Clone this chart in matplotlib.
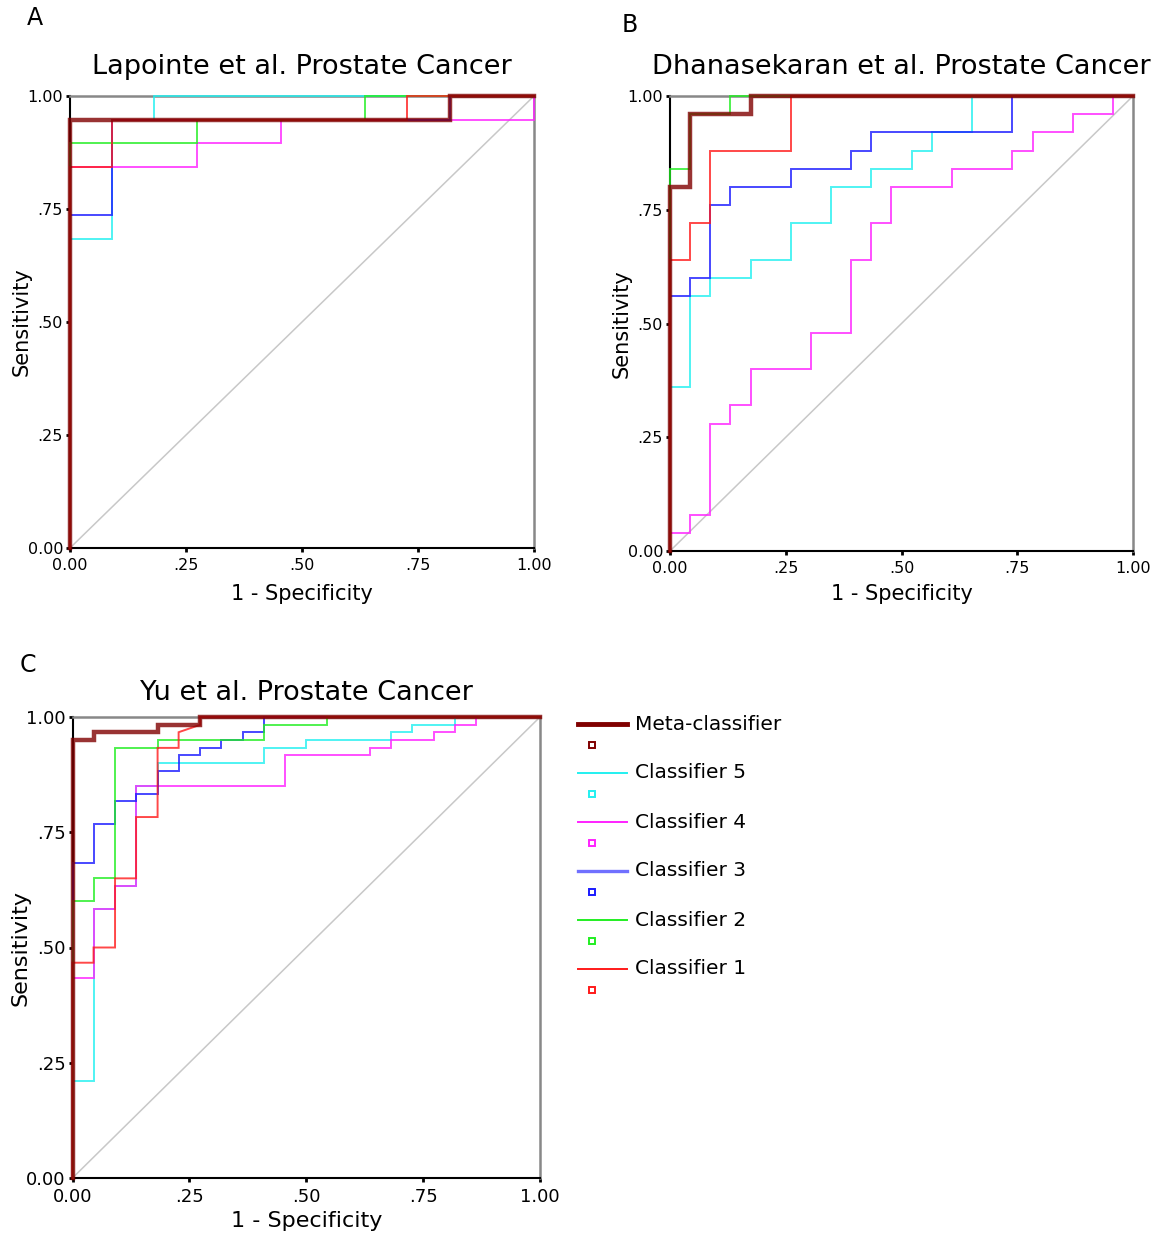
import matplotlib
matplotlib.use("Agg")
import matplotlib.pyplot as plt
from matplotlib.lines import Line2D

# ---- data (1 - specificity, sensitivity) ----
names = ["Meta-classifier", "Classifier 5", "Classifier 4",
         "Classifier 3", "Classifier 2", "Classifier 1"]
colors = ["#800000", "#22f0f0", "#ff22ff", "#1a1aff", "#22ee22", "#ff1a1a"]

# Lapointe et al.
a_meta_x = [0, 0, 0.818, 0.818, 1]
a_meta_y = [0, 0.947, 0.947, 1, 1]
a_c5_x = [0, 0, 0.091, 0.091, 0.182, 0.182, 1]
a_c5_y = [0, 0.684, 0.684, 0.947, 0.947, 1, 1]
a_c4_x = [0, 0, 0.273, 0.273, 0.455, 0.455, 1, 1]
a_c4_y = [0, 0.842, 0.842, 0.895, 0.895, 0.947, 0.947, 1]
a_c3_x = [0, 0, 0.091, 0.091, 0.818, 0.818, 1]
a_c3_y = [0, 0.737, 0.737, 0.947, 0.947, 1, 1]
a_c2_x = [0, 0, 0.273, 0.273, 0.636, 0.636, 1]
a_c2_y = [0, 0.895, 0.895, 0.947, 0.947, 1, 1]
a_c1_x = [0, 0, 0.091, 0.091, 0.727, 0.727, 1]
a_c1_y = [0, 0.842, 0.842, 0.947, 0.947, 1, 1]

# Dhanasekaran et al.
b_meta_x = [0, 0, 0.043, 0.043, 0.174, 0.174, 1]
b_meta_y = [0, 0.80, 0.80, 0.96, 0.96, 1, 1]
b_c5_x = [0, 0, 0.043, 0.043, 0.087, 0.087, 0.174, 0.174, 0.261, 0.261, 0.348,
          0.348, 0.435, 0.435, 0.522, 0.522, 0.565, 0.565, 0.652, 0.652, 1]
b_c5_y = [0, 0.36, 0.36, 0.56, 0.56, 0.60, 0.60, 0.64, 0.64, 0.72, 0.72,
          0.80, 0.80, 0.84, 0.84, 0.88, 0.88, 0.92, 0.92, 1, 1]
b_c4_x = [0, 0, 0.043, 0.043, 0.087, 0.087, 0.130, 0.130, 0.174, 0.174, 0.304,
          0.304, 0.391, 0.391, 0.435, 0.435, 0.478, 0.478, 0.609, 0.609, 0.739,
          0.739, 0.783, 0.783, 0.870, 0.870, 0.957, 0.957, 1]
b_c4_y = [0, 0.04, 0.04, 0.08, 0.08, 0.28, 0.28, 0.32, 0.32, 0.40, 0.40,
          0.48, 0.48, 0.64, 0.64, 0.72, 0.72, 0.80, 0.80, 0.84, 0.84,
          0.88, 0.88, 0.92, 0.92, 0.96, 0.96, 1, 1]
b_c3_x = [0, 0, 0.043, 0.043, 0.087, 0.087, 0.130, 0.130, 0.261, 0.261, 0.391,
          0.391, 0.435, 0.435, 0.739, 0.739, 1]
b_c3_y = [0, 0.56, 0.56, 0.60, 0.60, 0.76, 0.76, 0.80, 0.80, 0.84, 0.84,
          0.88, 0.88, 0.92, 0.92, 1, 1]
b_c2_x = [0, 0, 0.043, 0.043, 0.130, 0.130, 1]
b_c2_y = [0, 0.84, 0.84, 0.96, 0.96, 1, 1]
b_c1_x = [0, 0, 0.043, 0.043, 0.087, 0.087, 0.261, 0.261, 1]
b_c1_y = [0, 0.64, 0.64, 0.72, 0.72, 0.88, 0.88, 1, 1]

# Yu et al.
c_meta_x = [0, 0, 0.045, 0.045, 0.182, 0.182, 0.273, 0.273, 1]
c_meta_y = [0, 0.95, 0.95, 0.967, 0.967, 0.983, 0.983, 1, 1]
c_c5_x = [0, 0, 0.045, 0.045, 0.091, 0.091, 0.136, 0.136, 0.182, 0.182, 0.409,
          0.409, 0.5, 0.5, 0.682, 0.682, 0.727, 0.727, 0.818, 0.818, 1]
c_c5_y = [0, 0.21, 0.21, 0.583, 0.583, 0.633, 0.633, 0.85, 0.85, 0.9, 0.9,
          0.933, 0.933, 0.95, 0.95, 0.967, 0.967, 0.983, 0.983, 1, 1]
c_c4_x = [0, 0, 0.045, 0.045, 0.091, 0.091, 0.136, 0.136, 0.455, 0.455, 0.636,
          0.636, 0.682, 0.682, 0.773, 0.773, 0.818, 0.818, 0.864, 0.864, 1]
c_c4_y = [0, 0.433, 0.433, 0.583, 0.583, 0.633, 0.633, 0.85, 0.85, 0.917, 0.917,
          0.933, 0.933, 0.95, 0.95, 0.967, 0.967, 0.983, 0.983, 1, 1]
c_c3_x = [0, 0, 0.045, 0.045, 0.091, 0.091, 0.136, 0.136, 0.182, 0.182, 0.227,
          0.227, 0.273, 0.273, 0.318, 0.318, 0.364, 0.364, 0.409, 0.409, 1]
c_c3_y = [0, 0.683, 0.683, 0.767, 0.767, 0.817, 0.817, 0.833, 0.833, 0.883, 0.883,
          0.917, 0.917, 0.933, 0.933, 0.95, 0.95, 0.967, 0.967, 1, 1]
c_c2_x = [0, 0, 0.045, 0.045, 0.091, 0.091, 0.182, 0.182, 0.409, 0.409, 0.545, 0.545, 1]
c_c2_y = [0, 0.6, 0.6, 0.65, 0.65, 0.933, 0.933, 0.95, 0.95, 0.983, 0.983, 1, 1]
c_c1_x = [0, 0, 0.045, 0.045, 0.091, 0.091, 0.136, 0.136, 0.182, 0.182, 0.227,
          0.227, 0.273, 0.273, 1]
c_c1_y = [0, 0.467, 0.467, 0.5, 0.5, 0.65, 0.65, 0.783, 0.783, 0.933, 0.933,
          0.967, 0.983, 1, 1]

ticks = [0, 0.25, 0.5, 0.75, 1.0]
tick_labels = ["0.00", ".25", ".50", ".75", "1.00"]

panels = [
    ("A", "Lapointe et al. Prostate Cancer",
     [(a_meta_x, a_meta_y), (a_c5_x, a_c5_y), (a_c4_x, a_c4_y),
      (a_c3_x, a_c3_y), (a_c2_x, a_c2_y), (a_c1_x, a_c1_y)]),
    ("B", "Dhanasekaran et al. Prostate Cancer",
     [(b_meta_x, b_meta_y), (b_c5_x, b_c5_y), (b_c4_x, b_c4_y),
      (b_c3_x, b_c3_y), (b_c2_x, b_c2_y), (b_c1_x, b_c1_y)]),
    ("C", "Yu et al. Prostate Cancer",
     [(c_meta_x, c_meta_y), (c_c5_x, c_c5_y), (c_c4_x, c_c4_y),
      (c_c3_x, c_c3_y), (c_c2_x, c_c2_y), (c_c1_x, c_c1_y)]),
]

W, H = 1171, 1237
fig = plt.figure(figsize=(W / 100, H / 100), dpi=100)
plt.rcParams['font.family'] = ['DejaVu Sans']


def px_rect(x0, x1, ytop, ybot):
    return [x0 / W, 1 - ybot / H, (x1 - x0) / W, (ybot - ytop) / H]


rects = [px_rect(70, 534, 96, 548), px_rect(670, 1133, 96, 551),
         px_rect(72.5, 540, 717, 1178)]
letter_pos = [(35, 18), (630, 25), (28, 665)]
tick_fs = [11.5, 11.5, 13]
lab_fs = [15, 15, 16]
title_pad = [16, 16, 12]
xlab_pad = [8, 6, 4]

for i, (letter, title, curves) in enumerate(panels):
    ax = fig.add_axes(rects[i])
    ax.set_xlim(0, 1)
    ax.set_ylim(0, 1)
    ax.plot([0, 1], [0, 1], color="#c8c8c8", lw=1.1, zorder=1)
    # classifiers first, meta-classifier on top (semi-transparent)
    for k in range(len(curves) - 1, -1, -1):
        xs, ys = curves[k]
        if k == 0:
            ax.plot(xs, ys, color=colors[k], lw=3.2, alpha=0.8, zorder=10,
                    solid_joinstyle="miter", clip_on=False)
        else:
            ax.plot(xs, ys, color=colors[k], lw=1.4, alpha=0.8, zorder=2 + k,
                    solid_joinstyle="miter", clip_on=False)
    for s in ["left", "bottom"]:
        ax.spines[s].set_color("black")
        ax.spines[s].set_linewidth(1.5)
    for s in ["top", "right"]:
        ax.spines[s].set_color("#888888")
        ax.spines[s].set_linewidth(1.8)
    ax.set_xticks(ticks)
    ax.set_yticks(ticks)
    ax.set_xticklabels(tick_labels, fontsize=tick_fs[i])
    ax.set_yticklabels(tick_labels, fontsize=tick_fs[i])
    ax.tick_params(length=3, width=2, pad=2, color="black")
    ax.tick_params(axis="x", pad=4)
    ax.set_xlabel("1 - Specificity", fontsize=lab_fs[i], labelpad=xlab_pad[i])
    ax.set_ylabel("Sensitivity", fontsize=lab_fs[i], labelpad=-3)
    ax.set_title(title, fontsize=19.5, pad=title_pad[i])
    fig.text(letter_pos[i][0] / W, 1 - letter_pos[i][1] / H, letter,
             fontsize=17, ha="center", va="center")

# legend (line sample with a small square marker below, SPSS style)
leg_lw = [3.5, 1.4, 1.4, 2.4, 1.4, 1.4]
leg_col = ["#800000", "#22f0f0", "#ff22ff", "#7070ff", "#22ee22", "#ff1a1a"]
for k, name in enumerate(names):
    y = 724 + k * 49
    fig.add_artist(Line2D([578 / W, 627 / W], [1 - y / H, 1 - y / H],
                          color=leg_col[k], lw=leg_lw[k]))
    fig.add_artist(Line2D([592 / W], [1 - (y + 21) / H], marker="s",
                          markersize=5, markerfacecolor="white",
                          markeredgecolor=colors[k], markeredgewidth=1.4,
                          linestyle="none"))
    fig.text(635 / W, 1 - y / H, name, fontsize=14.5, ha="left", va="center")

plt.savefig("out.png", dpi=100)
